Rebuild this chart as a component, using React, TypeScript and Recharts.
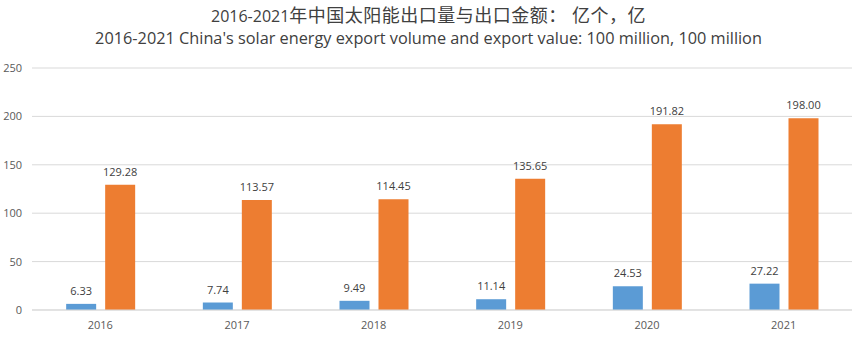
import React from "react";
import { BarChart, Bar, XAxis, YAxis, CartesianGrid, LabelList } from "recharts";

const years = ["2016", "2017", "2018", "2019", "2020", "2021"];
const exportVolume = [6.33, 7.74, 9.49, 11.14, 24.53, 27.22];
const exportValue = [129.28, 113.57, 114.45, 135.65, 191.82, 198.0];
const yTicks = [0, 50, 100, 150, 200, 250];

const data = years.map((y, i) => ({ year: y, volume: exportVolume[i], value: exportValue[i] }));

const FONT = "'Open Sans', 'Noto Sans CJK SC', sans-serif";

export default function App() {
  const fmt = (v: any) => Number(v).toFixed(2);
  return (
    <div style={{ position: "absolute", left: 0, top: 0, width: 857, height: 345, background: "#fff", fontFamily: FONT }}>
      <div style={{ position: "absolute", left: 0, top: 3, width: 857, textAlign: "center", lineHeight: "24px", color: "#404040", fontFamily: FONT, whiteSpace: "nowrap" }}>
        <span style={{ fontSize: 16 }}>2016-2021</span>
        <span style={{ fontSize: 18, letterSpacing: 0.5 }}>年中国太阳能出口量与出口金额： 亿个，亿</span>
      </div>
      <div style={{ position: "absolute", left: 0, top: 27, width: 857, textAlign: "center", fontSize: 16.3, lineHeight: "22px", color: "#404040", fontFamily: FONT, whiteSpace: "nowrap" }}>
        2016-2021 China's solar energy export volume and export value: 100 million, 100 million
      </div>
      <BarChart
        width={857}
        height={345}
        data={data}
        margin={{ top: 68, right: 5, bottom: 5, left: 0 }}
        barCategoryGap="25%"
        barGap={9}
      >
        <CartesianGrid vertical={false} stroke="#d9d9d9" />
        <XAxis
          dataKey="year"
          axisLine={{ stroke: "#d9d9d9" }}
          tickLine={false}
          tickMargin={5}
          tick={{ fill: "#595959", fontSize: 11, fontFamily: FONT }}
        />
        <YAxis
          width={32}
          domain={[0, 250]}
          ticks={yTicks}
          axisLine={false}
          tickLine={false}
          tickMargin={4}
          tick={{ fill: "#595959", fontSize: 11, fontFamily: FONT }}
        />
        <Bar dataKey="volume" name="出口量（亿个）" fill="#5B9BD5" isAnimationActive={false}>
          <LabelList dataKey="volume" position="top" offset={9} formatter={fmt} fill="#404040" fontSize={11} fontFamily={FONT} />
        </Bar>
        <Bar dataKey="value" name="出口金额（亿）" fill="#ED7D31" isAnimationActive={false}>
          <LabelList dataKey="value" position="top" offset={9} formatter={fmt} fill="#404040" fontSize={11} fontFamily={FONT} />
        </Bar>
      </BarChart>
    </div>
  );
}
